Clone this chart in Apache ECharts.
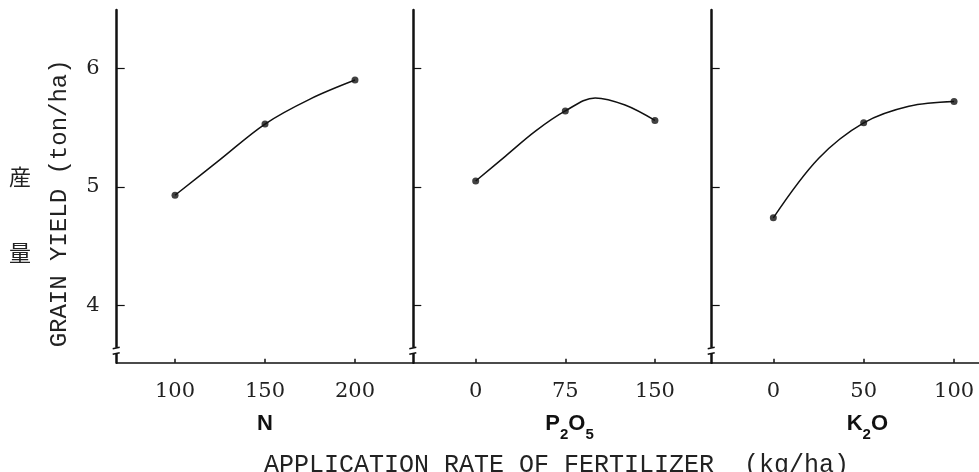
<!DOCTYPE html>
<html><head><meta charset="utf-8">
<script src="https://cdn.jsdelivr.net/npm/echarts@6/dist/echarts.min.js"></script>
<style>html,body{margin:0;padding:0;background:#fff}#c{width:979px;height:472px}</style>
</head><body><div id="c"></div>
<script>
// ---- data ----
const yTickValues = [4, 5, 6];
const nTickValues = [100, 150, 200];
const pTickValues = [0, 75, 150];
const kTickValues = [0, 50, 100];

const nRates = [100, 150, 200];
const nYield = [4.93, 5.53, 5.90];
const nCurveRates = [100, 125, 150, 175, 200];
const nCurveYield = [4.93, 5.23, 5.53, 5.74, 5.90];

const pRates = [0, 75, 150];
const pYield = [5.05, 5.64, 5.56];
const pCurveRates = [0, 25, 50, 75, 100, 125, 150];
const pCurveYield = [5.05, 5.26, 5.47, 5.64, 5.75, 5.69, 5.56];

const kRates = [0, 50, 100];
const kYield = [4.74, 5.54, 5.72];
const kCurveRates = [0, 25, 50, 75, 100];
const kCurveYield = [4.74, 5.24, 5.54, 5.68, 5.72];

const panelNames = ['{b|N}', '{b|P}{s|2}{b|O}{s|5}', '{b|K}{s|2}{b|O}'];
const yName = 'GRAIN YIELD (ton/ha)';
const yNameJa = ['産', '量'];
const xTitle = 'APPLICATION RATE OF FERTILIZER  (kg/ha)';

// ---- layout ----
const zip = (a, b) => a.map((v, i) => [v, b[i]]);
const INK = '#111';
const MONO = '"Liberation Mono", "DejaVu Sans Mono", monospace';
const SERIF = '"DejaVu Serif", "Liberation Serif", serif';
const SANS = '"Liberation Sans", Arial, sans-serif';

const panels = [
  { left: 116.7, width: 296.6, min: 67.6, max: 232.4, ticks: nTickValues, name: panelNames[0], pad: [0,0,0,0],
    pts: zip(nRates, nYield), curve: zip(nCurveRates, nCurveYield) },
  { left: 413.3, width: 298.4, min: -52.2, max: 197.5, ticks: pTickValues, name: panelNames[1], pad: [0,0,0,14],
    pts: zip(pRates, pYield), curve: zip(pCurveRates, pCurveYield) },
  { left: 711.7, width: 267.3, min: -34.1, max: 113.8, ticks: kTickValues, name: panelNames[2], pad: [0,0,0,44],
    pts: zip(kRates, kYield), curve: zip(kCurveRates, kCurveYield) }
];

const grid = panels.map(p => ({ left: p.left, width: p.width, top: 10, bottom: 109.3, containLabel: false }));

const xAxis = panels.map((p, i) => ({
  type: 'value', gridIndex: i, min: p.min, max: p.max,
  splitLine: { show: false },
  axisLine: { show: true, onZero: false, lineStyle: { color: INK, width: 1.5 } },
  axisTick: { show: true, inside: true, length: 4, customValues: p.ticks, lineStyle: { color: INK, width: 1.5 } },
  axisLabel: { show: true, customValues: p.ticks, margin: 18, color: '#222', fontFamily: SERIF, fontSize: 21 },
  name: p.name, nameLocation: 'middle', nameGap: 50,
  nameTextStyle: {
    padding: p.pad,
    rich: {
      b: { fontFamily: SANS, fontWeight: 'bold', fontSize: 22, color: '#111', lineHeight: 24, verticalAlign: 'top' },
      s: { fontFamily: SANS, fontWeight: 'bold', fontSize: 15, color: '#111', lineHeight: 30, verticalAlign: 'bottom' }
    }
  }
}));

const yAxis = panels.map((p, i) => ({
  type: 'value', gridIndex: i, min: 3.52, max: 6.49,
  splitLine: { show: false },
  axisLine: { show: true, onZero: false, lineStyle: { color: INK, width: 2.5 } },
  axisTick: { show: true, inside: true, length: 8, customValues: yTickValues, lineStyle: { color: INK, width: 1.2 } },
  axisLabel: { show: i === 0, customValues: yTickValues, margin: 17, color: '#222', fontFamily: SERIF, fontSize: 21 },
  name: i === 0 ? yName : '', nameLocation: 'middle', nameRotate: 90, nameGap: 45,
  nameTextStyle: { fontFamily: MONO, fontSize: 24, color: '#222', padding: [0, 34, 0, 0] }
}));

const series = [];
panels.forEach((p, i) => {
  series.push({
    type: 'line', xAxisIndex: i, yAxisIndex: i, data: p.curve, smooth: 0.35,
    showSymbol: false, lineStyle: { color: INK, width: 1.5 }, silent: true
  });
  series.push({
    type: 'scatter', xAxisIndex: i, yAxisIndex: i, data: p.pts, symbol: 'circle', symbolSize: 7,
    itemStyle: { color: INK }, z: 3
  });
});

const chart = echarts.init(document.getElementById('c'), null, { renderer: 'canvas' });
chart.setOption({
  animation: false,
  backgroundColor: '#fff',
  grid, xAxis, yAxis, series,
  title: {
    text: xTitle, left: 259, top: 448,
    textStyle: { fontFamily: MONO, fontSize: 25, fontWeight: 'normal', color: '#222' }
  }
});

// decorations: Japanese label and axis-break marks (positions from the library's scales)
const graphic = [
  { type: 'text', x: 20, y: 177, style: { text: yNameJa[0], font: '22px "Noto Sans CJK JP"', fill: '#222', align: 'center', verticalAlign: 'middle' } },
  { type: 'text', x: 20, y: 253, style: { text: yNameJa[1], font: '22px "Noto Sans CJK JP"', fill: '#222', align: 'center', verticalAlign: 'middle' } }
];
panels.forEach((p, i) => {
  const [ax, ay] = chart.convertToPixel({ xAxisIndex: i, yAxisIndex: i }, [p.min, 3.52]);
  const top = ay - 15, bot = ay - 9;
  graphic.push({ type: 'rect', shape: { x: ax - 5, y: top, width: 10, height: bot - top }, style: { fill: '#fff' }, z: 10 });
  graphic.push({ type: 'line', shape: { x1: ax - 4, y1: top + 1, x2: ax + 3, y2: top - 0.5 }, style: { stroke: INK, lineWidth: 1.5 }, z: 11 });
  graphic.push({ type: 'line', shape: { x1: ax - 4, y1: bot + 0.5, x2: ax + 3, y2: bot - 1 }, style: { stroke: INK, lineWidth: 1.5 }, z: 11 });
});
chart.setOption({ graphic });
</script>
</body></html>
